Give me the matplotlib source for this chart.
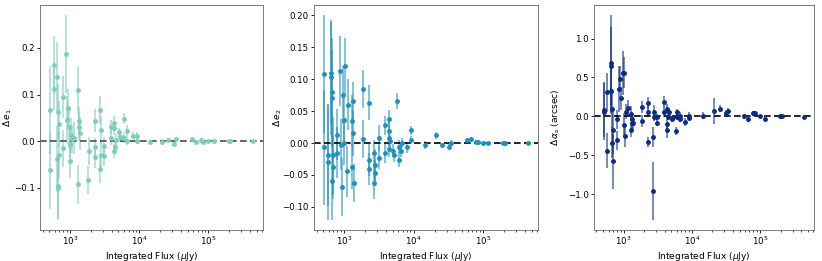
import numpy as np
import matplotlib
matplotlib.use("Agg")
import matplotlib.pyplot as plt

# shared source fluxes (uJy)
flux = [515, 515, 580, 580, 650, 650, 665, 675, 660, 700, 700, 800, 800, 865, 895, 925,
        968, 1000, 1000, 1034, 1081, 1142, 1291, 1291, 1330, 1330, 1395, 1842, 1870,
        2264, 2264, 2300, 2716, 2716, 2760, 2760, 3134, 3134, 3920, 3920, 4380, 4380,
        4380, 4450, 4600, 5100, 5250, 5770, 6100, 6100, 6670, 6750, 8050, 9200, 9200,
        14500, 21000, 26000, 32000, 34000, 58000, 67000, 79000, 83000, 99000, 119000,
        196000, 207000, 440000]

de1 = [0.067, -0.062, 0.163, 0.112, 0.138, -0.038, -0.095, -0.100, 0.062, 0.037, -0.029,
       0.094, -0.015, 0.187, 0.046, 0.071, 0.030, -0.006, -0.043, 0.014, 0.005, 0.007,
       0.109, -0.092, 0.043, 0.031, 0.017, -0.083, -0.021, 0.044, -0.013, -0.033, 0.066,
       -0.059, 0.024, -0.029, -0.011, -0.032, 0.031, 0.007, 0.039, 0.028, -0.021, -0.013,
       0.003, 0.019, 0.009, 0.006, 0.048, 0.007, 0.022, 0.000, 0.012, 0.012, 0.000,
       -0.002, -0.001, 0.003, -0.005, 0.004, 0.005, -0.002, 0.003, -0.002, 0.001, 0.001,
       0.000, 0.000, 0.001]
de1_err = [0.095, 0.083, 0.062, 0.045, 0.075, 0.070, 0.070, 0.068, 0.060, 0.050, 0.050,
           0.045, 0.040, 0.083, 0.050, 0.040, 0.045, 0.040, 0.035, 0.035, 0.030, 0.035,
           0.050, 0.042, 0.030, 0.030, 0.035, 0.030, 0.030, 0.025, 0.020, 0.025, 0.030,
           0.030, 0.030, 0.030, 0.020, 0.020, 0.015, 0.015, 0.015, 0.015, 0.015, 0.015,
           0.012, 0.010, 0.010, 0.008, 0.012, 0.010, 0.012, 0.008, 0.008, 0.007, 0.006,
           0.006, 0.006, 0.004, 0.005, 0.004, 0.004, 0.004, 0.003, 0.003, 0.003, 0.003,
           0.002, 0.002, 0.002]

de2 = [0.108, -0.007, -0.019, -0.030, 0.110, 0.103, 0.080, -0.060, 0.070, -0.019, -0.037,
       0.013, -0.015, 0.113, -0.003, -0.069, 0.075, 0.036, 0.000, 0.120, -0.044, 0.060,
       0.035, -0.037, 0.015, 0.066, -0.063, 0.085, 0.006, 0.063, -0.027, -0.041, -0.016,
       -0.063, -0.034, -0.047, 0.008, -0.023, 0.028, -0.016, 0.037, 0.019, 0.008, -0.010,
       0.003, -0.012, -0.019, 0.066, -0.006, -0.026, -0.012, 0.000, -0.007, 0.020, 0.005,
       -0.003, 0.012, -0.003, -0.006, 0.000, 0.004, 0.006, 0.001, 0.002, 0.000, 0.000,
       0.000, 0.000, 0.000]
de2_err = [0.092, 0.090, 0.080, 0.090, 0.080, 0.090, 0.085, 0.060, 0.075, 0.060, 0.050,
           0.040, 0.040, 0.055, 0.040, 0.045, 0.045, 0.040, 0.035, 0.045, 0.040, 0.040,
           0.040, 0.035, 0.035, 0.030, 0.030, 0.030, 0.030, 0.027, 0.025, 0.025, 0.020,
           0.025, 0.025, 0.020, 0.020, 0.018, 0.015, 0.015, 0.015, 0.015, 0.012, 0.012,
           0.010, 0.010, 0.010, 0.012, 0.010, 0.012, 0.010, 0.008, 0.008, 0.007, 0.006,
           0.006, 0.006, 0.003, 0.004, 0.004, 0.004, 0.004, 0.003, 0.003, 0.002, 0.002,
           0.002, 0.002, 0.002]

dalpha = [0.085, 0.060, 0.310, -0.440, 0.680, 0.330, 0.100, -0.340, 0.650, -0.180, -0.580,
          -0.040, -0.310, 0.350, 0.480, 0.230, 0.560, 0.560, -0.110, -0.250, 0.060, 0.110,
          0.035, -0.170, -0.030, -0.080, -0.090, 0.120, -0.060, 0.170, 0.060, -0.330,
          -0.270, -0.960, -0.010, 0.060, -0.080, -0.010, 0.190, 0.060, -0.100, -0.180,
          0.100, -0.010, 0.060, -0.030, -0.010, -0.190, 0.050, -0.010, 0.010, -0.030,
          -0.070, 0.010, -0.020, 0.010, 0.070, 0.100, 0.040, 0.070, 0.000, -0.040, 0.040,
          0.040, 0.000, -0.040, 0.000, 0.000, -0.010]
dalpha_err = [0.350, 0.370, 0.250, 0.220, 0.620, 0.300, 0.250, 0.200, 0.500, 0.300, 0.350,
              0.120, 0.120, 0.300, 0.170, 0.150, 0.280, 0.200, 0.150, 0.150, 0.100, 0.100,
              0.100, 0.100, 0.080, 0.100, 0.080, 0.080, 0.080, 0.080, 0.070, 0.070, 0.130,
              0.370, 0.050, 0.080, 0.050, 0.040, 0.070, 0.070, 0.060, 0.100, 0.060, 0.040,
              0.040, 0.040, 0.030, 0.050, 0.050, 0.040, 0.040, 0.040, 0.050, 0.040, 0.030,
              0.040, 0.170, 0.040, 0.040, 0.040, 0.030, 0.030, 0.030, 0.030, 0.020, 0.020,
              0.020, 0.020, 0.020]

plt.rcParams["font.size"] = 6.5
plt.rcParams["xtick.labelsize"] = 6.2
plt.rcParams["ytick.labelsize"] = 6.2
plt.rcParams["axes.linewidth"] = 0.6
plt.rcParams["xtick.major.width"] = 0.6
plt.rcParams["ytick.major.width"] = 0.6
plt.rcParams["xtick.minor.width"] = 0.5
plt.rcParams["xtick.major.size"] = 2.2
plt.rcParams["ytick.major.size"] = 2.2
plt.rcParams["xtick.minor.size"] = 1.3

fig = plt.figure(figsize=(8.22, 2.61), dpi=100)
positions = [[0.0487, 0.119, 0.2713, 0.862],
             [0.382, 0.119, 0.2725, 0.862],
             [0.7226, 0.119, 0.2676, 0.862]]
label_x = [-0.117, -0.134, -0.145]
panels = [(de1, de1_err, "#7fcdbb", r"$\Delta\, e_1$", "0.3"),
          (de2, de2_err, "#1d91c0", r"$\Delta\, e_2$", "k"),
          (dalpha, dalpha_err, "#0c2c84", r"$\Delta\, \alpha_s$ (arcsec)", "k")]

for pos, lx, (vals, errs, col, ylab, lcol) in zip(positions, label_x, panels):
    ax = fig.add_axes(pos)
    ax.errorbar(flux, vals, yerr=errs, fmt="none", ecolor=col, alpha=0.6, elinewidth=1.3)
    ax.plot(flux, vals, "o", color=col, ms=2.5, zorder=3)
    ax.axhline(0, color=lcol, ls="--", lw=1.2, dashes=(4, 2), zorder=2)
    ax.set_xscale("log")
    ax.set_xlabel(r"Integrated Flux ($\mu$Jy)", labelpad=1.5)
    ax.set_ylabel(ylab)
    ax.yaxis.set_label_coords(lx, 0.5)
    ax.tick_params(pad=1.5)
    for s in ax.spines.values():
        s.set_color("0.4")

fig.savefig("out.png", dpi=100)
